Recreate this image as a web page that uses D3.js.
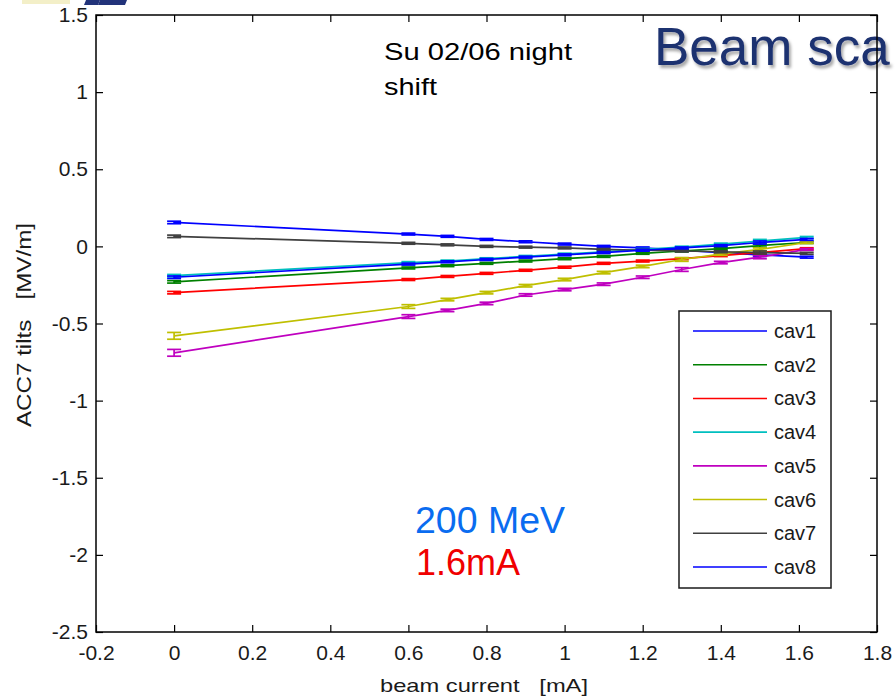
<!DOCTYPE html>
<html><head><meta charset="utf-8">
<script src="https://cdn.jsdelivr.net/npm/d3@7"></script>
<style>
body{margin:0;background:#fff}
svg{display:block}
text{font-family:"Liberation Sans",Arial,Helvetica,sans-serif;white-space:pre}
</style>
</head><body>
<svg id="chart" width="895" height="700"></svg>
<script>
// ---- data ----
const beamCurrent = [0, 0.6, 0.7, 0.8, 0.9, 1.0, 1.1, 1.2, 1.3, 1.4, 1.5, 1.62];
const cav1 = [0.155, 0.08, 0.065, 0.045, 0.03, 0.015, 0.0, -0.01, -0.025, -0.04, -0.055, -0.07];
const cav2 = [-0.23, -0.14, -0.125, -0.11, -0.095, -0.08, -0.065, -0.045, -0.03, -0.015, 0.005, 0.025];
const cav3 = [-0.30, -0.215, -0.195, -0.175, -0.155, -0.135, -0.11, -0.095, -0.08, -0.06, -0.04, -0.015];
const cav4 = [-0.19, -0.105, -0.095, -0.08, -0.065, -0.05, -0.035, -0.02, -0.005, 0.015, 0.035, 0.058];
const cav5 = [-0.69, -0.455, -0.415, -0.37, -0.315, -0.28, -0.245, -0.2, -0.15, -0.105, -0.07, -0.02];
const cav6 = [-0.58, -0.39, -0.345, -0.30, -0.255, -0.215, -0.17, -0.13, -0.085, -0.05, -0.02, 0.025];
const cav7 = [0.065, 0.02, 0.01, 0.0, -0.005, -0.01, -0.02, -0.025, -0.03, -0.035, -0.04, -0.045];
const cav8 = [-0.2, -0.115, -0.1, -0.085, -0.07, -0.055, -0.04, -0.025, -0.01, 0.005, 0.025, 0.045];
const errSmall = [0.008, 0.006, 0.006, 0.006, 0.006, 0.006, 0.006, 0.006, 0.006, 0.006, 0.01, 0.006];
const errLarge = [0.022, 0.012, 0.008, 0.008, 0.008, 0.008, 0.008, 0.008, 0.012, 0.008, 0.01, 0.006];
const seriesNames = ["cav1", "cav2", "cav3", "cav4", "cav5", "cav6", "cav7", "cav8"];
const seriesValues = [cav1, cav2, cav3, cav4, cav5, cav6, cav7, cav8];
const seriesErrors = [errSmall, errSmall, errSmall, errSmall, errLarge, errLarge, errSmall, errSmall];
const seriesColors = ["#0000ff", "#008000", "#ff0000", "#00bfbf", "#bf00bf", "#bfbf00", "#404040", "#0000ff"];
const xTicks = [-0.2, 0, 0.2, 0.4, 0.6, 0.8, 1, 1.2, 1.4, 1.6, 1.8];
const yTicks = [-2.5, -2, -1.5, -1, -0.5, 0, 0.5, 1, 1.5];
const xLabel = "beam current   [mA]";
const yLabel = "ACC7 tilts   [MV/m]";
const noteText = ["Su 02/06 night", "shift"];
const energyText = "200 MeV";
const currentText = "1.6mA";
const titleText = "Beam sca";

// ---- layout ----
const svg = d3.select("#chart");
const L = 96, R = 877, T = 15, B = 632;
const x = d3.scaleLinear().domain([-0.2, 1.8]).range([L, R]);
const y = d3.scaleLinear().domain([-2.5, 1.5]).range([B, T]);

svg.append("rect").attr("width", 895).attr("height", 700).attr("fill", "#fff");

// logo fragments at top-left (slide background)
svg.append("rect").attr("x", 22).attr("y", 0).attr("width", 48).attr("height", 4).attr("fill", "#f3efc8");
[[86, 100], [100, 114], [113, 127]].forEach(([a, b]) => {
  svg.append("polygon").attr("points", `${a},0 ${b},0 ${b - 2},5 ${a - 2},5`).attr("fill", "#22337a");
});

// slide title (behind the plot frame)
const defs = svg.append("defs");
const f = defs.append("filter").attr("id", "sh").attr("x", "-5%").attr("y", "-10%").attr("width", "110%").attr("height", "140%");
f.append("feDropShadow").attr("dx", 2).attr("dy", 3).attr("stdDeviation", 1.6).attr("flood-color", "#000").attr("flood-opacity", 0.35);
svg.append("text").attr("x", 654).attr("y", 65).attr("font-size", 53).attr("fill", "#1f3170")
  .attr("filter", "url(#sh)").text(titleText);

// series lines
const line = d3.line().x((d, i) => x(beamCurrent[i])).y(d => y(d));
const g = svg.append("g");
seriesValues.forEach((vals, s) => {
  g.append("path").attr("d", line(vals)).attr("fill", "none")
    .attr("stroke", seriesColors[s]).attr("stroke-width", 1.7);
  const eb = g.append("g").attr("stroke", seriesColors[s]).attr("stroke-width", 1.7);
  vals.forEach((v, i) => {
    const e = seriesErrors[s][i];
    const cx = x(beamCurrent[i]);
    eb.append("line").attr("x1", cx).attr("x2", cx).attr("y1", y(v - e)).attr("y2", y(v + e));
    eb.append("line").attr("x1", cx - 7).attr("x2", cx + 7).attr("y1", y(v - e)).attr("y2", y(v - e));
    eb.append("line").attr("x1", cx - 7).attr("x2", cx + 7).attr("y1", y(v + e)).attr("y2", y(v + e));
  });
});

// axes (MATLAB style: inward ticks on all sides)
const fmt = d => String(d);
const xAxis = svg.append("g").attr("transform", `translate(0,${B})`)
  .call(d3.axisBottom(x).tickValues(xTicks).tickSizeInner(-7).tickSizeOuter(0).tickPadding(13).tickFormat(fmt));
const xTop = svg.append("g").attr("transform", `translate(0,${T})`)
  .call(d3.axisTop(x).tickValues(xTicks).tickSizeInner(-7).tickSizeOuter(0).tickFormat(""));
const yAxis = svg.append("g").attr("transform", `translate(${L},0)`)
  .call(d3.axisLeft(y).tickValues(yTicks).tickSizeInner(-7).tickSizeOuter(0).tickPadding(8).tickFormat(fmt));
const yRight = svg.append("g").attr("transform", `translate(${R},0)`)
  .call(d3.axisRight(y).tickValues(yTicks).tickSizeInner(-7).tickSizeOuter(0).tickFormat(""));
[xAxis, xTop, yAxis, yRight].forEach(a => {
  a.select(".domain").remove();
  a.selectAll(".tick line").attr("stroke", "#000").attr("stroke-width", 1.2);
  a.selectAll("text").attr("font-size", 21).attr("fill", "#1a1a1a")
    .style("font-family", '"Liberation Sans",Arial,sans-serif');
});
svg.append("rect").attr("x", L).attr("y", T).attr("width", R - L).attr("height", B - T)
  .attr("fill", "none").attr("stroke", "#000").attr("stroke-width", 1.5);

// axis labels
svg.append("text").attr("x", 380).attr("y", 692)
  .attr("font-size", 19).attr("fill", "#1a1a1a")
  .attr("textLength", 208).attr("lengthAdjust", "spacingAndGlyphs").text(xLabel);
svg.append("text").attr("transform", "translate(31,427) rotate(-90)")
  .attr("font-size", 20).attr("fill", "#1a1a1a")
  .attr("textLength", 204).attr("lengthAdjust", "spacingAndGlyphs").text(yLabel);

// annotations
svg.append("text").attr("x", 384).attr("y", 60).attr("font-size", 24).attr("fill", "#000")
  .attr("textLength", 188).attr("lengthAdjust", "spacingAndGlyphs").text(noteText[0]);
svg.append("text").attr("x", 384).attr("y", 95).attr("font-size", 24).attr("fill", "#000")
  .attr("textLength", 53).attr("lengthAdjust", "spacingAndGlyphs").text(noteText[1]);
svg.append("text").attr("x", 415).attr("y", 533).attr("font-size", 37).attr("fill", "#0a6cf0")
  .attr("textLength", 150).attr("lengthAdjust", "spacingAndGlyphs").text(energyText);
svg.append("text").attr("x", 416).attr("y", 575).attr("font-size", 37).attr("fill", "#f00000")
  .attr("textLength", 104).attr("lengthAdjust", "spacingAndGlyphs").text(currentText);

// legend
const lg = svg.append("g");
lg.append("rect").attr("x", 679).attr("y", 311).attr("width", 152).attr("height", 277)
  .attr("fill", "#fff").attr("stroke", "#1a1a1a").attr("stroke-width", 1.5);
const ly = d3.scalePoint().domain(seriesNames).range([331, 567]);
seriesNames.forEach((n, i) => {
  lg.append("line").attr("x1", 693).attr("x2", 767).attr("y1", ly(n)).attr("y2", ly(n))
    .attr("stroke", seriesColors[i]).attr("stroke-width", 1.6);
  lg.append("text").attr("x", 774).attr("y", ly(n) + 7).attr("font-size", 20).attr("fill", "#1a1a1a").text(n);
});
</script>
</body></html>
